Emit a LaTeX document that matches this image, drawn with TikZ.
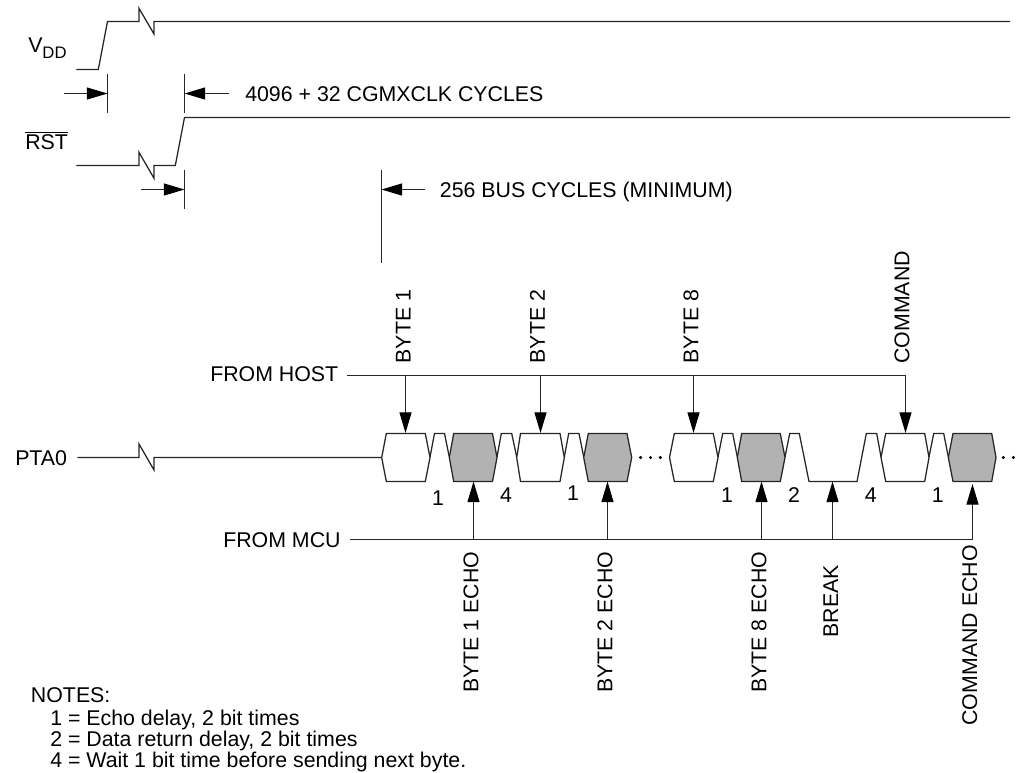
\documentclass[tikz,border=0pt]{standalone}
\usepackage{fontspec}
\setmainfont{Liberation Sans}
\usetikzlibrary{arrows.meta}
\tikzset{
  wire/.style={line width=0.95pt,black!85,line join=miter},
  tick/.style={line width=0.95pt,black!85},
  pointer/.style={line width=0.95pt,black!85,-{Triangle[length=15.5pt,width=9pt,black]}},
  hexwhite/.style={line width=0.95pt,black!85,fill=white,line join=miter},
  hexgray/.style={line width=0.95pt,black!85,fill=black!30,line join=miter},
  txt/.style={font=\fontsize{16}{18}\selectfont,inner sep=0pt,anchor=base west},
  rot/.style={font=\fontsize{16}{18}\selectfont,inner sep=0pt,rotate=90},
  num/.style={font=\fontsize{16}{18}\selectfont,inner sep=0pt},
  dot/.style={circle,fill=black,inner sep=0pt,minimum size=2.6pt}
}
\begin{document}
\begin{tikzpicture}[x=0.75pt,y=-0.75pt]
\useasboundingbox (0,0) rectangle (1020,772);
% VDD and RST waveforms
\draw[wire] (76.3,69.5) -- (98.3,69.5) -- (107.5,21.5) -- (139,21.5) -- (139,8.3) -- (154,34) -- (154,21.5) -- (1010,21.5);
\draw[wire] (76.3,165.5) -- (139,165.5) -- (139,152.3) -- (154,178.3) -- (154,165.5) -- (175.3,165.5) -- (184.5,117.5) -- (1010,117.5);
\node[txt] (vdd) at (28,52.7) {V\raisebox{-4.4pt}{\fontsize{12.5}{15}\selectfont DD}};
\node[txt] (rst) at (25,149.3) {$\overline{\mbox{RST}}$};
% timing ticks
\coordinate (t1a) at (107.5,73.7); \coordinate (t1b) at (107.5,113);
\coordinate (t2a) at (184.5,73.7); \coordinate (t2b) at (184.5,113);
\coordinate (t3a) at (184.5,169.7); \coordinate (t3b) at (184.5,209);
\coordinate (t4a) at (381.5,169.5); \coordinate (t4b) at (381.5,262.5);
\draw[tick] (t1a) -- (t1b);
\draw[tick] (t2a) -- (t2b);
\draw[tick] (t3a) -- (t3b);
\draw[tick] (t4a) -- (t4b);
\coordinate (a1) at (64,93.5); \coordinate (a1e) at (107.5,93.5);
\coordinate (a2) at (229,93.5); \coordinate (a2e) at (184.5,93.5);
\coordinate (a3) at (141,189.5); \coordinate (a3e) at (184.5,189.5);
\coordinate (a4) at (425,189.5); \coordinate (a4e) at (381.5,189.5);
\draw[pointer] (a1) -- (a1e);
\draw[pointer] (a2) -- (a2e);
\draw[pointer] (a3) -- (a3e);
\draw[pointer] (a4) -- (a4e);
\node[txt] (cyc) at (245,101.5) {4096 + 32 CGMXCLK CYCLES};
\node[txt] (bus) at (439.7,197) {256 BUS CYCLES (MINIMUM)};
% PTA0
\node[txt] (pta) at (15,465) {PTA0};
\draw[wire] (77.3,457.5) -- (139,457.5) -- (139,444) -- (154,470) -- (154,457.5) -- (381.7,457.5);
% pulses
\draw[wire] (430,457) -- (434.5,433.5) -- (444.5,433.5) -- (449.3,457);
\draw[wire] (497,457) -- (501.3,433.5) -- (511.7,433.5) -- (516.7,457);
\draw[wire] (564.3,457) -- (568.7,433.5) -- (579,433.5) -- (583.7,457);
\draw[wire] (718,457) -- (722.7,433.5) -- (732.7,433.5) -- (737.3,457);
\draw[wire] (785,457) -- (789.7,433.5) -- (799.3,433.5) -- (809,481.5) -- (857,481.5) -- (866.3,433.5) -- (876.7,433.5) -- (881,457);
\draw[wire] (929,457) -- (933.7,433.5) -- (943.7,433.5) -- (948.3,457);
% hexes
\draw[hexwhite] (381.7,457.5) -- (386.3,433.5) -- (425.3,433.5) -- (430,457.5) -- (425.3,481.5) -- (386.3,481.5) -- cycle;
\draw[hexgray] (449.3,457.5) -- (453.7,433.5) -- (492.5,433.5) -- (497,457.5) -- (492.5,481.5) -- (453.7,481.5) -- cycle;
\draw[hexwhite] (516.7,457.5) -- (520.5,433.5) -- (560,433.5) -- (564.3,457.5) -- (560,481.5) -- (520.5,481.5) -- cycle;
\draw[hexgray] (583.7,457.5) -- (588.3,433.5) -- (627,433.5) -- (631.7,457.5) -- (627,481.5) -- (588.3,481.5) -- cycle;
\draw[hexwhite] (669.5,457.5) -- (674.3,433.5) -- (713.3,433.5) -- (718,457.5) -- (713.3,481.5) -- (674.3,481.5) -- cycle;
\draw[hexgray] (737.3,457.5) -- (741.7,433.5) -- (780.3,433.5) -- (785,457.5) -- (780.3,481.5) -- (741.7,481.5) -- cycle;
\draw[hexwhite] (881,457.5) -- (885.7,433.5) -- (924.7,433.5) -- (929,457.5) -- (924.7,481.5) -- (885.7,481.5) -- cycle;
\draw[hexgray] (948.3,457.5) -- (953,433.5) -- (991.7,433.5) -- (996,457.5) -- (991.7,481.5) -- (953,481.5) -- cycle;
% dots
\foreach \n/\x in {da/640.7,db/650.5,dc/660.3,dd/1003.3,de/1013.3} \node[dot] (\n) at (\x,457.5) {};
% host
\coordinate (hs) at (346.7,375.5); \coordinate (he) at (905.5,375.5);
\draw[wire] (hs) -- (he);
\foreach \n/\x in {h1/405.5,h2/540.5,h3/693.5,h4/905.5} {
  \coordinate (\n a) at (\x,375.5); \coordinate (\n b) at (\x,433);
  \draw[pointer] (\n a) -- (\n b);
}
% mcu
\coordinate (ms) at (350,539.5); \coordinate (me) at (972.5,539.5);
\draw[wire] (ms) -- (me);
\foreach \n/\x/\y in {m1/473.5/481.5,m2/607.5/481.5,m3/761.5/481.5,m4/832.5/481.5,m5/972.5/484} {
  \coordinate (\n a) at (\x,539.5); \coordinate (\n b) at (\x,\y);
  \draw[pointer] (\n a) -- (\n b);
}
\node[txt] (fh) at (210,381.7) {FROM HOST};
\node[txt] (fm) at (223,547) {FROM MCU};
% rotated labels
\node[rot,anchor=west] (b1) at (403.4,363.5) {BYTE 1};
\node[rot,anchor=west] (b2) at (537.5,363.5) {BYTE 2};
\node[rot,anchor=west] (b8) at (691,363.5) {BYTE 8};
\node[rot,anchor=west] (cm) at (902,364) {COMMAND};
\node[rot,anchor=east] (be1) at (471,551.5) {BYTE 1 ECHO};
\node[rot,anchor=east] (be2) at (605,551.5) {BYTE 2 ECHO};
\node[rot,anchor=east] (be8) at (759,551.5) {BYTE 8 ECHO};
\node[rot,anchor=east] (brk) at (830.7,565) {BREAK};
\node[rot,anchor=east] (cme) at (969.7,545) {COMMAND ECHO};
% numbers
\node[num] (n1) at (438,498) {1};
\node[num] (n2) at (506,495) {4};
\node[num] (n3) at (573,493) {1};
\node[num] (n4) at (727,495) {1};
\node[num] (n5) at (794,495) {2};
\node[num] (n6) at (870.7,495) {4};
\node[num] (n7) at (937.7,495) {1};
% notes
\node[txt] (nt) at (30.7,702.7) {NOTES:};
\node[txt] (nt1) at (50,725) {1 = Echo delay, 2 bit times};
\node[txt] (nt2) at (50,746) {2 = Data return delay, 2 bit times};
\node[txt] (nt3) at (50,767.3) {4 = Wait 1 bit time before sending next byte.};
\end{tikzpicture}
\end{document}
